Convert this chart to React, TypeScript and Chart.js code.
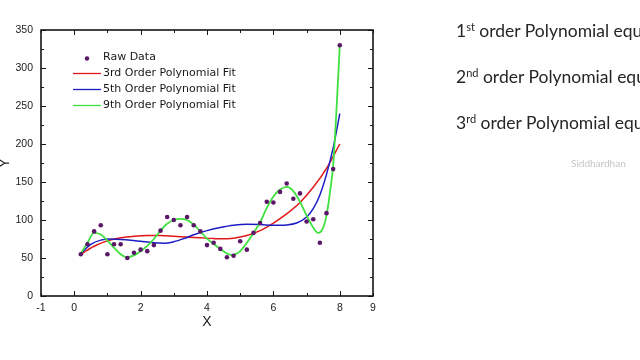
import React, { useEffect, useRef } from 'react';
import { Chart, registerables } from 'chart.js';

Chart.register(...registerables);

// ---- data ----
const rawX = [0.2, 0.4, 0.6, 0.8, 1.0, 1.2, 1.4, 1.6, 1.8, 2.0, 2.2, 2.4, 2.6, 2.8, 3.0, 3.2, 3.4, 3.6, 3.8, 4.0,
  4.2, 4.4, 4.6, 4.8, 5.0, 5.2, 5.4, 5.6, 5.8, 6.0, 6.2, 6.4, 6.6, 6.8, 7.0, 7.2, 7.4, 7.6, 7.8, 8.0];
const rawY = [55, 68, 85, 93, 55, 68, 68, 50, 57, 61, 59, 67, 86, 104, 100, 93, 104, 93, 85, 67,
  70, 62, 51, 53, 72, 61, 83, 96, 124, 123, 137, 148, 128, 135, 98, 101, 70, 109, 167, 330];

const fit3X = [0.2, 0.6, 1.0, 1.4, 1.8, 2.2, 2.6, 3.0, 3.4, 3.8, 4.2, 4.4, 4.8, 5.2, 5.6, 6.0, 6.4, 6.8, 7.2, 7.6, 8.0];
const fit3Y = [55, 65.5, 72.5, 76.5, 78.5, 79.5, 79.5, 78.5, 77.5, 76.5, 75.5, 75.2, 76, 79.5, 86, 96, 108, 123, 143, 168, 200];

const fit5X = [0.2, 0.5, 0.8, 1.1, 1.4, 1.7, 2.0, 2.4, 2.7, 3.0, 3.3, 3.6, 4.0, 4.4, 4.8, 5.2, 5.6, 6.0, 6.4, 6.7, 7.0, 7.2, 7.4, 7.6, 7.8, 8.0];
const fit5Y = [56, 68, 73.5, 75, 74.5, 73.5, 72, 70, 69.5, 71.5, 75.5, 80.5, 86, 90, 93, 94.3, 94, 93, 93.5, 96, 104, 115, 133, 160, 195, 240];

const fit9X = [0.2, 0.4, 0.6, 0.8, 1.0, 1.2, 1.4, 1.6, 1.8, 2.0, 2.2, 2.4, 2.6, 2.8, 3.0, 3.2, 3.4, 3.6, 3.8, 4.0,
  4.2, 4.4, 4.6, 4.75, 4.9, 5.0, 5.2, 5.4, 5.6, 5.8, 6.0, 6.2, 6.4, 6.6, 6.8, 7.0, 7.2, 7.35, 7.5, 7.6, 7.7, 7.8, 7.9, 8.0];
const fit9Y = [56, 70, 83, 81, 73, 63.5, 55, 51, 53.5, 59, 66, 75, 86, 95, 100, 101.5, 100, 94, 85, 75.5,
  68.5, 62, 56, 54, 56, 59, 70, 83, 97, 116, 131, 140, 143.5, 138, 124, 106, 90, 83, 90, 106, 135, 172, 245, 330];

const seriesNames = ['Raw Data', '3rd Order Polynomial Fit', '5th Order Polynomial Fit', '9th Order Polynomial Fit'];
const seriesColors = ['#5a1768', '#e01818', '#1c1cc4', '#3fe03f'];
const xLabelValues = [-1, 0, 2, 4, 6, 8, 9];
const xMin = -1, xMax = 9;
const yMin = 0, yMax = 350, yStep = 50, yMinorStep = 25;

const slideLines = [
  { num: '1', sup: 'st', rest: ' order Polynomial equation' },
  { num: '2', sup: 'nd', rest: ' order Polynomial equation' },
  { num: '3', sup: 'rd', rest: ' order Polynomial equation' },
];

const pts = (xs: number[], ys: number[]) => xs.map((x, i) => ({ x, y: ys[i] }));

const tickFont = { family: '"Liberation Sans", Arial, sans-serif', size: 10.5 };
const titleFont = { family: '"Liberation Sans", Arial, sans-serif', size: 14 };

const framePlugin = {
  id: 'frameTicks',
  afterDatasetsDraw(chart: any) {
    const { ctx, chartArea: a, scales } = chart;
    const xs = scales.x, ys = scales.y;
    ctx.save();
    ctx.strokeStyle = '#151515';
    ctx.lineWidth = 1;
    const seg = (x1: number, y1: number, x2: number, y2: number) => {
      ctx.beginPath(); ctx.moveTo(x1, y1); ctx.lineTo(x2, y2); ctx.stroke();
    };
    for (let v = xMin; v <= xMax; v++) {
      const px = Math.round(xs.getPixelForValue(v)) + 0.5;
      const len = v % 2 === 0 ? 5 : 3;
      seg(px, a.bottom, px, a.bottom - len);
      seg(px, a.top, px, a.top + len);
    }
    for (let v = yMin; v <= yMax; v += yMinorStep) {
      const py = Math.round(ys.getPixelForValue(v)) + 0.5;
      const len = v % yStep === 0 ? 5 : 3;
      seg(a.left, py, a.left + len, py);
      seg(a.right, py, a.right - len, py);
    }
    ctx.lineWidth = 1.6;
    ctx.strokeRect(a.left, a.top, a.right - a.left, a.bottom - a.top);
    ctx.restore();
  },
};

const legendPlugin = {
  id: 'insideLegend',
  afterDraw(chart: any) {
    const { ctx, chartArea: a } = chart;
    const x0 = a.left + 32;
    const lineLen = 28;
    const textX = x0 + lineLen + 2;
    const rowY0 = a.top + 27;
    const rowH = 16;
    ctx.save();
    ctx.font = '11px "DejaVu Sans", sans-serif';
    ctx.textBaseline = 'middle';
    ctx.textAlign = 'left';
    chart.data.datasets.forEach((ds: any, i: number) => {
      const y = rowY0 + i * rowH;
      if (ds.showLine === false) {
        ctx.fillStyle = ds.backgroundColor;
        ctx.beginPath();
        ctx.arc(x0 + lineLen / 2, y + 1.5, 2.2, 0, Math.PI * 2);
        ctx.fill();
      } else {
        ctx.strokeStyle = ds.borderColor;
        ctx.lineWidth = 1.3;
        ctx.beginPath(); ctx.moveTo(x0, y + 0.5); ctx.lineTo(x0 + lineLen, y + 0.5); ctx.stroke();
      }
      ctx.fillStyle = '#1a1a1a';
      ctx.fillText(ds.label, textX, y);
    });
    ctx.restore();
  },
};

export default function App() {
  const ref = useRef<HTMLCanvasElement>(null);
  useEffect(() => {
    if (!ref.current) return;
    const chart = new Chart(ref.current, {
      type: 'scatter',
      data: {
        datasets: [
          {
            label: seriesNames[0], data: pts(rawX, rawY), showLine: false,
            backgroundColor: seriesColors[0], borderColor: seriesColors[0],
            pointRadius: 2.3, pointBorderWidth: 0, order: 0,
          },
          {
            label: seriesNames[1], data: pts(fit3X, fit3Y), showLine: true, borderColor: seriesColors[1],
            backgroundColor: seriesColors[1], borderWidth: 1.5, pointRadius: 0, cubicInterpolationMode: 'monotone', order: 3,
          },
          {
            label: seriesNames[2], data: pts(fit5X, fit5Y), showLine: true, borderColor: seriesColors[2],
            backgroundColor: seriesColors[2], borderWidth: 1.5, pointRadius: 0, cubicInterpolationMode: 'monotone', order: 2,
          },
          {
            label: seriesNames[3], data: pts(fit9X, fit9Y), showLine: true, borderColor: seriesColors[3],
            backgroundColor: seriesColors[3], borderWidth: 1.8, pointRadius: 0, cubicInterpolationMode: 'monotone', order: 1,
          },
        ] as any,
      },
      options: {
        responsive: false,
        animation: false,
        layout: { padding: { left: 0, top: 30, right: 267, bottom: 0 } },
        plugins: { legend: { display: false }, tooltip: { enabled: false } },
        scales: {
          x: {
            type: 'linear', min: xMin, max: xMax,
            grid: { display: false, drawTicks: false },
            border: { display: false },
            ticks: {
              stepSize: 1, autoSkip: false, maxRotation: 0, padding: 6, color: '#222', font: tickFont,
              callback: (v: any) => (xLabelValues.includes(Number(v)) ? String(v) : ''),
            },
            title: { display: true, text: 'X', color: '#222', font: titleFont, padding: { top: 0, bottom: 29 } },
            afterFit: (s: any) => { s.height = 64; },
          },
          y: {
            type: 'linear', min: yMin, max: yMax,
            grid: { display: false, drawTicks: false },
            border: { display: false },
            ticks: { stepSize: yStep, padding: 8, color: '#222', font: tickFont },
            title: { display: true, text: 'Y', color: '#222', font: { ...titleFont, lineHeight: 0.7 }, padding: { top: 0, bottom: 0 } },
            afterFit: (s: any) => { s.width = 41; },
          },
        },
      } as any,
      plugins: [framePlugin, legendPlugin],
    });
    return () => chart.destroy();
  }, []);

  return (
    <div style={{ position: 'absolute', left: 0, top: 0, width: 640, height: 360, overflow: 'hidden', background: '#fff' }}>
      <canvas ref={ref} width={640} height={360} style={{ position: 'absolute', left: 0, top: 0 }} />
      {slideLines.map((l, i) => (
        <div key={i} style={{
          position: 'absolute', left: 456, top: 22 + i * 46, whiteSpace: 'nowrap',
          fontFamily: 'Lato, "Open Sans", sans-serif', fontSize: 17.5, lineHeight: 1, color: '#262626',
        }}>
          {l.num}
          <span style={{ fontSize: 11, position: 'relative', top: -6 }}>{l.sup}</span>
          {l.rest}
        </div>
      ))}
      <div style={{
        position: 'absolute', left: 571, top: 158, whiteSpace: 'nowrap',
        fontFamily: 'Lato, sans-serif', fontSize: 10, lineHeight: 1, color: '#c4c4c4',
      }}>Siddhardhan</div>
    </div>
  );
}
